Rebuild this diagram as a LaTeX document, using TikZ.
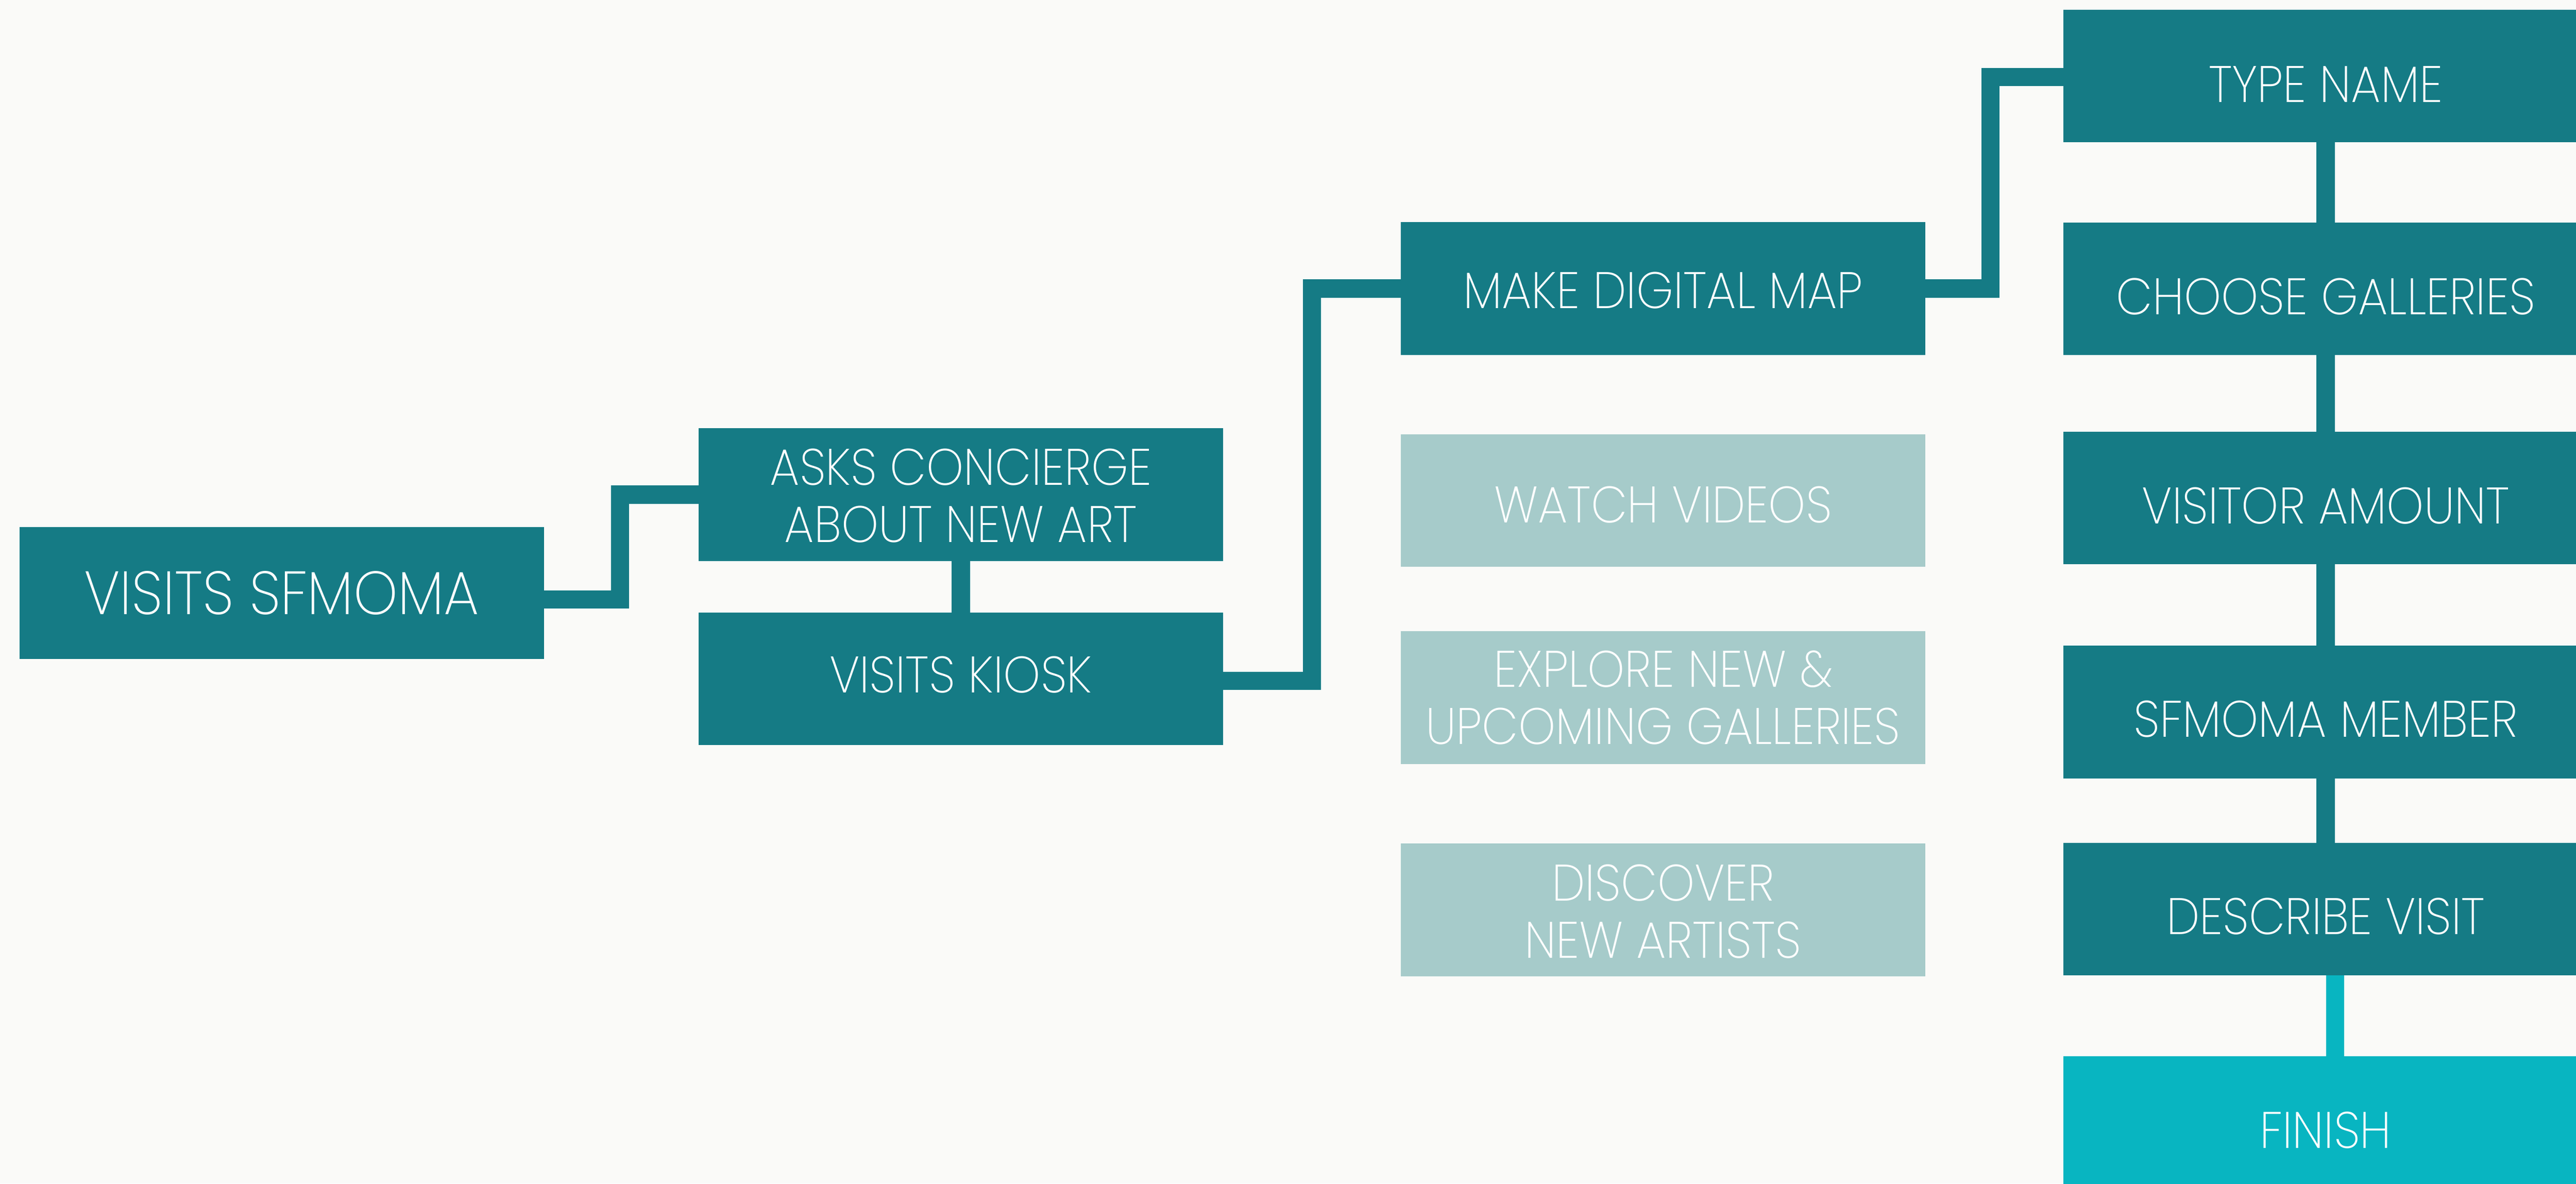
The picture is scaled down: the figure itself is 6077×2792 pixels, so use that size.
\documentclass[tikz,border=0pt]{standalone}
\usepackage{fontspec}
\setmainfont{Poppins}[UprightFont={* ExtraLight},FakeStretch=0.92]
\usetikzlibrary{calc}
\definecolor{boxteal}{HTML}{157B85}
\definecolor{boxpale}{HTML}{A6CBCA}
\definecolor{finteal}{HTML}{08B5C1}
\definecolor{pagebg}{HTML}{FAFAF8}
\newcommand\twoline[2]{\vtop{\baselineskip=13.5pt\halign{\hfil##\hfil\cr#1\cr#2\cr}}}
\tikzset{
  box/.style={rectangle, inner sep=0pt, outer sep=0pt, minimum width=123.7pt,
    minimum height=31.3pt, text=white, font=\fontsize{12.1}{13.5}\selectfont},
  dark/.style={box, fill=boxteal},
  pale/.style={box, fill=boxpale},
  fin/.style={box, fill=finteal},
  conn/.style={draw=boxteal, line width=4.3pt},
  sl/.style={text height=#1, text depth=0pt},
  tl/.style={text height=0pt, text depth=#1},
}
\begin{document}
\begin{tikzpicture}[x=0.1pt,y=-0.1pt]
\useasboundingbox (0,0) rectangle (6077,2792);
\clip (0,0) rectangle (6077,2792);
\fill[pagebg] (0,0) rectangle (6077,2792);
% left
\node[dark, sl=10.2pt, minimum height=31.1pt, font=\fontsize{14.4}{16}\selectfont] (sfmoma) at (664.5,1399) {VISITS SFMOMA};
\node[dark, tl=4.6pt] (asks) at (2266.5,1167) {\twoline{ASKS CONCIERGE}{ABOUT NEW ART}};
\node[dark, sl=6.5pt] (kiosk) at (2266.5,1601.5) {VISITS KIOSK};
% middle
\node[dark, sl=9.5pt] (mdm) at (3923.5,680.5) {MAKE DIGITAL MAP};
\node[pale, sl=10.5pt] (watch) at (3923.5,1180.5) {WATCH VIDEOS};
\node[pale, tl=4.9pt] (explore) at (3923.5,1645.5) {\twoline{EXPLORE NEW \&}{UPCOMING GALLERIES}};
\node[pale, tl=4.3pt] (discover) at (3923.5,2146.5) {\twoline{DISCOVER}{NEW ARTISTS}};
% right column
\node[dark, sl=12.3pt] (typename) at (5486.5,179.5) {TYPE NAME};
\node[dark, sl=12.2pt] (choose) at (5486.5,681) {CHOOSE GALLERIES};
\node[dark, sl=12.3pt] (visitor) at (5486.5,1174.5) {VISITOR AMOUNT};
\node[dark, sl=11.9pt] (member) at (5486.5,1679.5) {SFMOMA MEMBER};
\node[dark, sl=11.9pt] (describe) at (5486.5,2144.5) {DESCRIBE VISIT};
\node[fin, sl=12.1pt] (finish) at (5486.5,2647.5) {FINISH};
% connectors
\draw[conn] ($(sfmoma.east)+(0,15.5)$) -| ($(asks.west)+(-185.5,0)$) -- (asks.west);
\draw[conn] (asks.south) -- (kiosk.north);
\draw[conn] ($(kiosk.east)+(0,4.5)$) -| ($(mdm.west)+(-210,0)$) -- (mdm.west);
\draw[conn] (mdm.east) -| ($(typename.west)+(-172.5,2)$) -- ($(typename.west)+(0,2)$);
\draw[conn] (typename.south) -- (choose.north);
\draw[conn] (choose.south) -- (visitor.north);
\draw[conn] (visitor.south) -- (member.north);
\draw[conn] (member.south) -- (describe.north);
\draw[conn, draw=finteal] ($(describe.south)+(22,0)$) -- ($(finish.north)+(22,0)$);
\end{tikzpicture}
\end{document}
